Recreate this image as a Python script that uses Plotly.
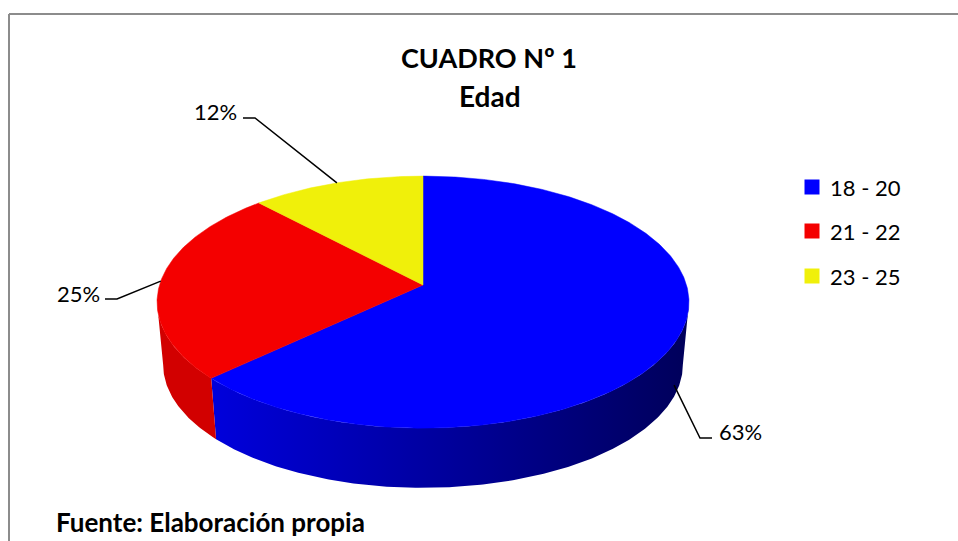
import numpy as np
import plotly.graph_objects as go

# ---- data ----
categories = ["18 - 20", "21 - 22", "23 - 25"]
values = [63, 25, 12]
pct_labels = ["63%", "25%", "12%"]

# ---- styling / geometry (pixel space of the 958x541 page) ----
top_colors = ["#0000FF", "#F40000", "#F0F00A"]
side_colors = [None, "#D20000", "#C8C800"]
blue_side_gradient = [[0, "#0000DC"], [1, "#00005A"]]
CX, CY, A, B, K = 423.0, 285.0, 263.5, 123.7, 0.136
CY2, SHRINK = 348.0, 0.977

def proj(theta_deg, bottom=False):
    t = np.radians(theta_deg)
    d = 1 + K * np.cos(t)
    if bottom:
        return CX + A * SHRINK * np.sin(t) / d, CY2 - B * SHRINK * np.cos(t) / d
    return CX + A * np.sin(t) / d, CY - B * np.cos(t) / d

def arc(t1, t2, bottom=False):
    n = max(int(abs(t2 - t1) / 0.5), 2)
    ts = np.linspace(t1, t2, n)
    return proj(ts, bottom)

total = sum(values)
bounds = [0.0]
for v in values:
    bounds.append(bounds[-1] + v / total * 360.0)

fig = go.Figure()

# visible side range
tmin = np.degrees(np.arccos(-K))
tmax = 360 - tmin

# sides
for i in range(len(values)):
    s, e = max(bounds[i], tmin), min(bounds[i + 1], tmax)
    if e <= s:
        continue
    xt, yt = arc(s, e)
    xb, yb = arc(e, s, bottom=True)
    xs = np.concatenate([xt, xb, xt[:1]])
    ys = np.concatenate([yt, yb, yt[:1]])
    kw = dict(fillcolor=side_colors[i])
    if i == 0:
        kw = dict(fillgradient=dict(type="horizontal", colorscale=blue_side_gradient))
    fig.add_trace(go.Scatter(x=xs, y=ys, mode="lines", fill="toself",
                             line=dict(width=0), hoverinfo="skip", showlegend=False, **kw))

# top faces
for i in range(len(values)):
    xt, yt = arc(bounds[i], bounds[i + 1])
    xs = np.concatenate([[CX], xt, [CX]])
    ys = np.concatenate([[CY], yt, [CY]])
    fig.add_trace(go.Scatter(x=xs, y=ys, mode="lines", fill="toself",
                             fillcolor=top_colors[i], line=dict(width=0.5, color=top_colors[i]),
                             hoverinfo="skip", showlegend=False))

# leader lines and labels
label_pos = [(740, 431), (78, 293), (215, 111)]
elbows = [[(700, 438), (712, 438)], [(117, 299), (105, 299)], [(255, 118), (243, 118)]]
for i in range(len(values)):
    mid = (bounds[i] + bounds[i + 1]) / 2
    ax, ay = proj(mid)
    if i == 0:
        bx, by = proj(mid, bottom=True)
        ax, ay = ax + 0.78 * (bx - ax), ay + 0.78 * (by - ay)
    xs = [ax] + [p[0] for p in elbows[i]]
    ys = [ay] + [p[1] for p in elbows[i]]
    fig.add_trace(go.Scatter(x=xs, y=ys, mode="lines", line=dict(color="black", width=1.5),
                             hoverinfo="skip", showlegend=False))
    fig.add_annotation(x=label_pos[i][0], y=label_pos[i][1], text=pct_labels[i],
                       showarrow=False, font=dict(family="Lato", size=22, color="black"))

# legend (manual)
leg_y = [187, 231, 276]
fig.add_trace(go.Scatter(x=[812] * 3, y=leg_y, mode="markers",
                         marker=dict(symbol="square", size=15, color=top_colors, line=dict(width=0)),
                         hoverinfo="skip", showlegend=False))
for c, yy in zip(categories, leg_y):
    fig.add_annotation(x=828, y=yy, text=c, showarrow=False, xanchor="left",
                       font=dict(family="Lato", size=22, color="black"))

# title and source
fig.add_annotation(x=489, y=57, text="<b>CUADRO Nº 1</b>", showarrow=False,
                   font=dict(family="Lato", size=27, color="black"))
fig.add_annotation(x=490, y=96, text="<b>Edad</b>", showarrow=False,
                   font=dict(family="Lato", size=28, color="black"))
fig.add_annotation(x=54, y=522, text="<b>Fuente: Elaboración propia</b>", showarrow=False,
                   xanchor="left", font=dict(family="Lato", size=26, color="black"))

# chart-area border (left and top edges visible in the crop)
fig.add_shape(type="line", x0=9, y0=14, x1=9, y1=541, xref="x", yref="y",
              line=dict(color="#8C8C8C", width=2))
fig.add_shape(type="line", x0=9, y0=14, x1=958, y1=14, xref="x", yref="y",
              line=dict(color="#8C8C8C", width=2))

fig.update_layout(
    width=958, height=541, margin=dict(l=0, r=0, t=0, b=0),
    paper_bgcolor="white", plot_bgcolor="white",
    xaxis=dict(range=[0, 958], visible=False, fixedrange=True),
    yaxis=dict(range=[541, 0], visible=False, fixedrange=True),
    showlegend=False,
)
fig.write_html("out.html", config={"displayModeBar": False},
               post_script="document.body.style.margin='0';document.body.style.overflow='hidden';")
